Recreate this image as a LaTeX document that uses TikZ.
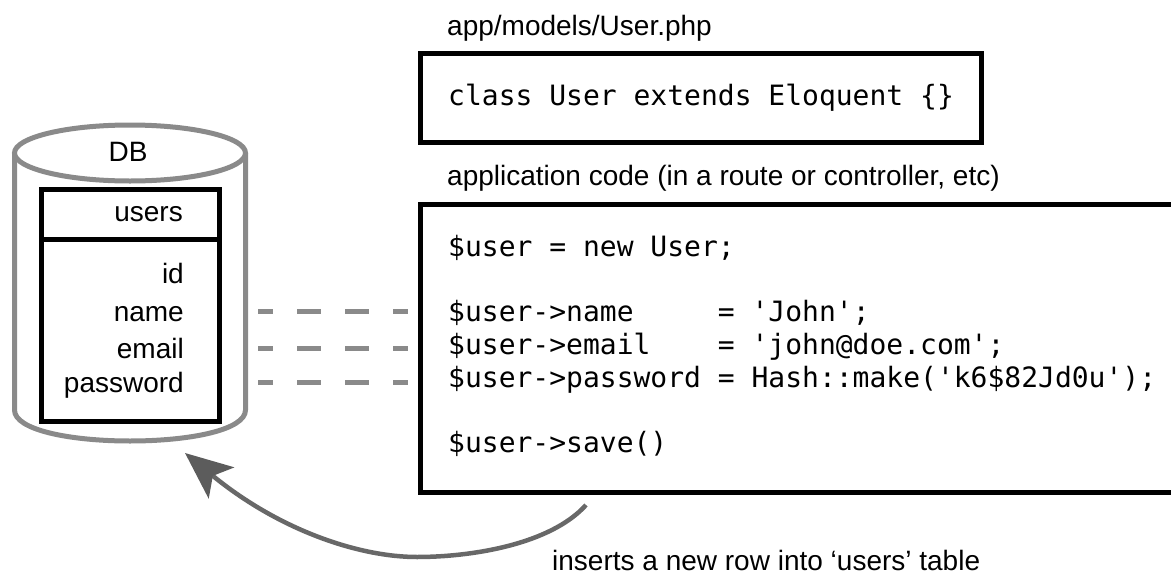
\documentclass[tikz,border=0pt]{standalone}
\usepackage{fontspec}
\setmainfont{Liberation Sans}
\setmonofont{DejaVu Sans Mono}
\usetikzlibrary{arrows.meta}
\definecolor{dbgray}{HTML}{8A8A8A}
\definecolor{flowgray}{HTML}{686868}
\tikzset{
  lab/.style={inner sep=0pt,anchor=base west,font=\fontsize{28}{28}\selectfont},
  rlab/.style={inner sep=0pt,anchor=base east,font=\fontsize{28}{28}\selectfont},
  code/.style={inner sep=0pt,anchor=base west,font=\fontsize{28}{28}\selectfont\ttfamily},
  box/.style={draw=black,line width=5pt,fill=white,inner sep=0pt,outer sep=0pt,anchor=north west},
  dbline/.style={draw=dbgray,line width=5pt},
  link/.style={draw=dbgray,line width=5pt,dash pattern=on 24pt off 24pt,dash phase=9pt},
  flow/.style={draw=flowgray,line width=4.5pt,-{Triangle[length=47pt,width=40pt,inset=11pt,color=black!64]}}
}
\begin{document}
\begin{tikzpicture}[x=1pt,y=-1pt]
\useasboundingbox (0,0) rectangle (1171,573);
% database cylinder
\draw[dbline,fill=white] (14.5,153) -- (14.5,410) .. controls (14.5,430) and (70,441) .. (130,441) .. controls (190,441) and (245.5,430) .. (245.5,410) -- (245.5,153);
\draw[dbline,fill=white] (130,153) ellipse [x radius=115.5,y radius=28];
\node[lab,anchor=base] (db) at (128,161) {DB};
% users table
\node[box,minimum width=177.5pt,minimum height=50.5pt] (thead) at (41.5,189) {};
\node[box,minimum width=177.5pt,minimum height=182pt] (tbody) at (41.5,239.5) {};
\node[rlab] (tname) at (183,221) {users};
\node[rlab] (fid) at (184,283) {id};
\node[rlab] (fname) at (184,321) {name};
\node[rlab] (femail) at (184,358.5) {email};
\node[rlab] (fpass) at (184,392.5) {password};
% top code box
\node[lab] (t1) at (447,35) {app/models/User.php};
\node[box,minimum width=561pt,minimum height=89pt] (model) at (420.5,53.5) {};
\node[code] (c0) at (448,105) {class User extends Eloquent \{\}};
% application code box
\node[lab] (t2) at (447,185) {application code (in a route or controller, etc)};
\node[box,minimum width=780pt,minimum height=288.5pt] (app) at (420.5,204) {};
\node[code] (c1) at (448,256.5) {\$user = new User;};
\node[code] (c2) at (448,321.5) {\$user->name\ \ \ \ \ = 'John';};
\node[code] (c3) at (448,354) {\$user->email\ \ \ \ = 'john@doe.com';};
\node[code] (c4) at (448,387.5) {\$user->password = Hash::make('k6\$82Jd0u');};
\node[code] (c5) at (448,452) {\$user->save()};
% dashed mappings
\coordinate (d1a) at (258,311); \coordinate (d1b) at (408,311);
\coordinate (d2a) at (258,348); \coordinate (d2b) at (408,348);
\coordinate (d3a) at (258,382); \coordinate (d3b) at (408,382);
\draw[link] (d1a) -- (d1b);
\draw[link] (d2a) -- (d2b);
\draw[link] (d3a) -- (d3b);
% arrow
\coordinate (as) at (586,505); \coordinate (ae) at (185,453);
\draw[flow] (as) .. controls (550,545) and (470,557) .. (417,557) .. controls (360,557) and (280,531) .. (ae);
\node[lab] (t3) at (552,570) {inserts a new row into ‘users’ table};
\end{tikzpicture}
\end{document}
